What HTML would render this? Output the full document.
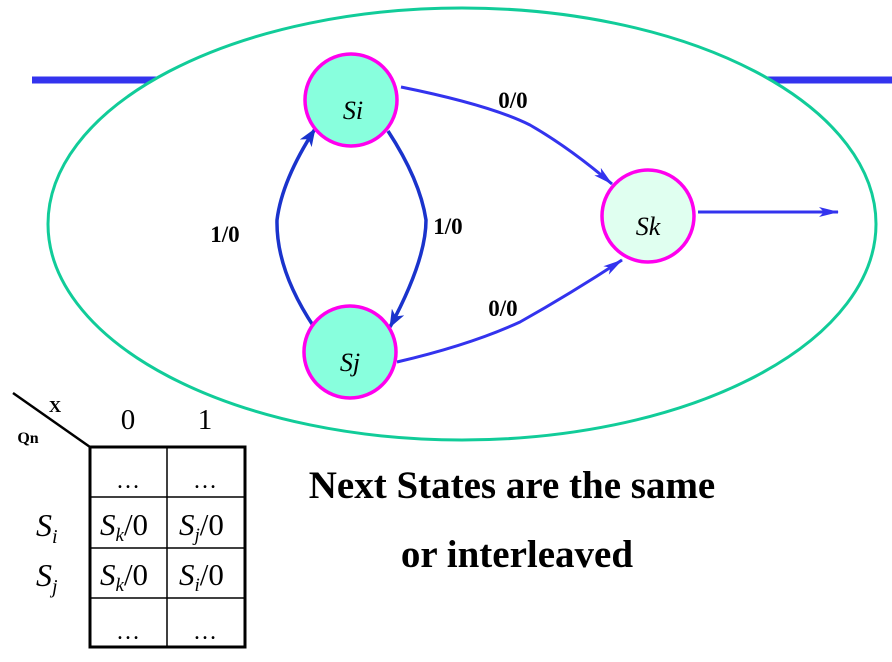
<!DOCTYPE html>
<html><head><meta charset="utf-8"><style>
body{margin:0;background:#fff;}
svg{display:block;}
.b{font-family:"Liberation Serif",serif;font-weight:bold;}
.i{font-family:"Liberation Serif",serif;font-style:italic;}
.r{font-family:"Liberation Serif",serif;}
</style></head><body>
<svg width="892" height="662" viewBox="0 0 892 662" xmlns="http://www.w3.org/2000/svg">
<defs>
<marker id="a" markerWidth="20" markerHeight="12" refX="19" refY="6" orient="auto" markerUnits="userSpaceOnUse"><path d="M0,1 L20,6 L0,11 L5,6z" fill="#3333ee"/></marker>
<marker id="d" markerWidth="18" markerHeight="14" refX="17" refY="7" orient="auto" markerUnits="userSpaceOnUse"><path d="M0,0 L18,7 L0,14 L5,7z" fill="#1a33cc"/></marker>
</defs>
<line x1="32" y1="80" x2="170" y2="80" stroke="#3333ee" stroke-width="7"/>
<line x1="755" y1="80" x2="892" y2="80" stroke="#3333ee" stroke-width="7"/>
<ellipse cx="462" cy="224" rx="414" ry="216" fill="#fff" stroke="#11cc99" stroke-width="3"/>
<path d="M401,87 Q490,105 530,125 Q570,148 612,184" fill="none" stroke="#3333ee" stroke-width="3" marker-end="url(#a)"/>
<path d="M397,362 Q470,345 520,322 Q570,294 622,260" fill="none" stroke="#3333ee" stroke-width="3" marker-end="url(#a)"/>
<path d="M388,131 Q420,180 426,220 Q426,260 390,327" fill="none" stroke="#1a33cc" stroke-width="3.5" marker-end="url(#d)"/>
<path d="M314,327 Q276,270 277,220 Q282,180 315,129" fill="none" stroke="#1a33cc" stroke-width="3.5" marker-end="url(#d)"/>
<line x1="698" y1="212" x2="838" y2="212" stroke="#3333ee" stroke-width="3" marker-end="url(#a)"/>
<circle cx="351" cy="100" r="46" fill="#88ffdd" stroke="#ff00ee" stroke-width="3.5"/>
<circle cx="350" cy="352" r="46" fill="#88ffdd" stroke="#ff00ee" stroke-width="3.5"/>
<circle cx="648" cy="216" r="46" fill="#e0fff0" stroke="#ff00ee" stroke-width="3.5"/>
<text x="353" y="119" class="i" font-size="26" text-anchor="middle">Si</text>
<text x="350" y="371" class="i" font-size="26" text-anchor="middle">Sj</text>
<text x="648" y="235" class="i" font-size="26" text-anchor="middle">Sk</text>
<text x="513" y="108" class="b" font-size="23" text-anchor="middle">0/0</text>
<text x="503" y="316" class="b" font-size="23" text-anchor="middle">0/0</text>
<text x="225" y="242" class="b" font-size="23" text-anchor="middle">1/0</text>
<text x="448" y="234" class="b" font-size="23" text-anchor="middle">1/0</text>
<line x1="13" y1="393" x2="90" y2="447" stroke="#000" stroke-width="2.5"/>
<text x="55" y="412" class="b" font-size="17" text-anchor="middle">X</text>
<text x="28" y="443" class="b" font-size="16" text-anchor="middle">Qn</text>
<text x="128" y="429" class="r" font-size="29" text-anchor="middle">0</text>
<text x="205" y="429" class="r" font-size="29" text-anchor="middle">1</text>
<rect x="90" y="447" width="155" height="200" fill="none" stroke="#000" stroke-width="3"/>
<line x1="167" y1="447" x2="167" y2="647" stroke="#000" stroke-width="1.5"/>
<line x1="90" y1="497" x2="245" y2="497" stroke="#000" stroke-width="1.5"/>
<line x1="90" y1="548" x2="245" y2="548" stroke="#000" stroke-width="1.5"/>
<line x1="90" y1="598" x2="245" y2="598" stroke="#000" stroke-width="1.5"/>
<text x="128" y="488" class="r" font-size="24" text-anchor="middle">…</text>
<text x="205" y="488" class="r" font-size="24" text-anchor="middle">…</text>
<text x="128" y="639" class="r" font-size="24" text-anchor="middle">…</text>
<text x="205" y="639" class="r" font-size="24" text-anchor="middle">…</text>
<text x="36" y="536" class="i" font-size="32">S<tspan font-size="20" dy="7">i</tspan></text>
<text x="36" y="586" class="i" font-size="32">S<tspan font-size="20" dy="7">j</tspan></text>
<text x="100" y="535" class="r" font-size="31"><tspan font-style="italic">S</tspan><tspan font-style="italic" font-size="19" dy="6">k</tspan><tspan dy="-6">/0</tspan></text>
<text x="179" y="535" class="r" font-size="31"><tspan font-style="italic">S</tspan><tspan font-style="italic" font-size="19" dy="6">j</tspan><tspan dy="-6">/0</tspan></text>
<text x="100" y="585" class="r" font-size="31"><tspan font-style="italic">S</tspan><tspan font-style="italic" font-size="19" dy="6">k</tspan><tspan dy="-6">/0</tspan></text>
<text x="179" y="585" class="r" font-size="31"><tspan font-style="italic">S</tspan><tspan font-style="italic" font-size="19" dy="6">i</tspan><tspan dy="-6">/0</tspan></text>
<text x="512" y="498" class="b" font-size="39" text-anchor="middle">Next States are the same</text>
<text x="517" y="567" class="b" font-size="39" text-anchor="middle">or interleaved</text>
</svg>
</body></html>
